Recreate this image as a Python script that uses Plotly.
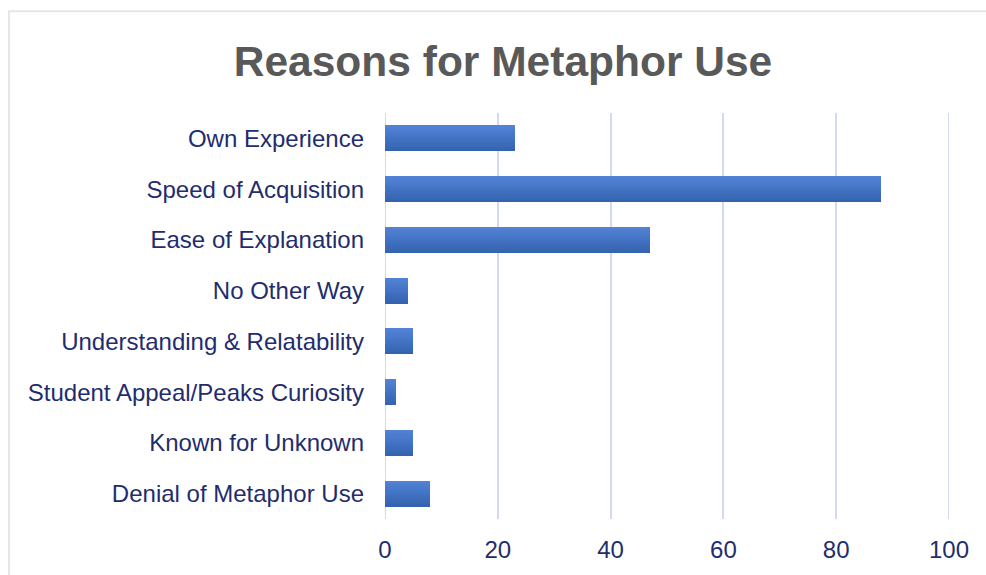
import plotly.graph_objects as go

categories = ["Own Experience", "Speed of Acquisition", "Ease of Explanation", "No Other Way",
              "Understanding & Relatability", "Student Appeal/Peaks Curiosity",
              "Known for Unknown", "Denial of Metaphor Use"]
values = [23, 88, 47, 4, 5, 2, 5, 8]
x_ticks = [0, 20, 40, 60, 80, 100]

W, H = 986, 575
L, R, T, B = 385, 949, 113, 522

top_rgb = (82, 130, 214)
bot_rgb = (52, 99, 176)
n_stripes = 12
bar_w = 0.51

fig = go.Figure()
for i in range(n_stripes):
    f = i / (n_stripes - 1)
    c = tuple(round(top_rgb[k] + (bot_rgb[k] - top_rgb[k]) * f) for k in range(3))
    fig.add_trace(go.Bar(
        x=values, y=categories, orientation="h",
        width=bar_w / n_stripes + 0.002,
        offset=-bar_w / 2 + i * bar_w / n_stripes,
        marker=dict(color="rgb(%d,%d,%d)" % c, line=dict(width=0)),
        showlegend=False, hoverinfo="x+y" if i == 0 else "skip",
    ))

pw = R - L
ph = B - T
def px_x(p):
    return (p - L) / pw
def px_y(p):
    return (B - p) / ph

grid_color = "#d3d9f3"
shapes = [dict(type="rect", xref="paper", yref="paper",
               x0=px_x(9), x1=px_x(1000), y0=px_y(590), y1=px_y(10.5),
               line=dict(color="#e6e6e6", width=2), fillcolor="rgba(0,0,0,0)", layer="below")]
for v in (x_ticks[0], x_ticks[-1]):
    shapes.append(dict(type="line", xref="x", yref="paper", x0=v, x1=v, y0=0, y1=1,
                       line=dict(color=grid_color, width=2), layer="below"))

fig.update_layout(
    width=W, height=H,
    margin=dict(l=L, r=W - R, t=T, b=H - B, pad=0),
    paper_bgcolor="white", plot_bgcolor="white",
    barmode="overlay", bargap=0,
    font=dict(family="Liberation Sans, Arial, sans-serif", color="#1f2d6e"),
    title=dict(text="<b>Reasons for Metaphor Use</b>", x=503 / W, xanchor="center",
               xref="container", y=1 - 61 / H, yanchor="middle", yref="container",
               font=dict(size=42.5, color="#595959", family="Liberation Sans, Arial, sans-serif")),
    xaxis=dict(range=[0, 100], tickvals=x_ticks, showgrid=True, gridcolor=grid_color, gridwidth=2,
               zeroline=False, showline=False, ticks="", tickfont=dict(size=24, color="#1f2d6e"),
               ticklabelstandoff=14, fixedrange=True),
    yaxis=dict(categoryorder="array", categoryarray=categories, autorange="reversed",
               showgrid=False, zeroline=False, showline=False, ticks="",
               tickfont=dict(size=24, color="#1f2d6e"), ticklabelstandoff=20, fixedrange=True),
    shapes=shapes,
)

fig.write_html("out.html")
